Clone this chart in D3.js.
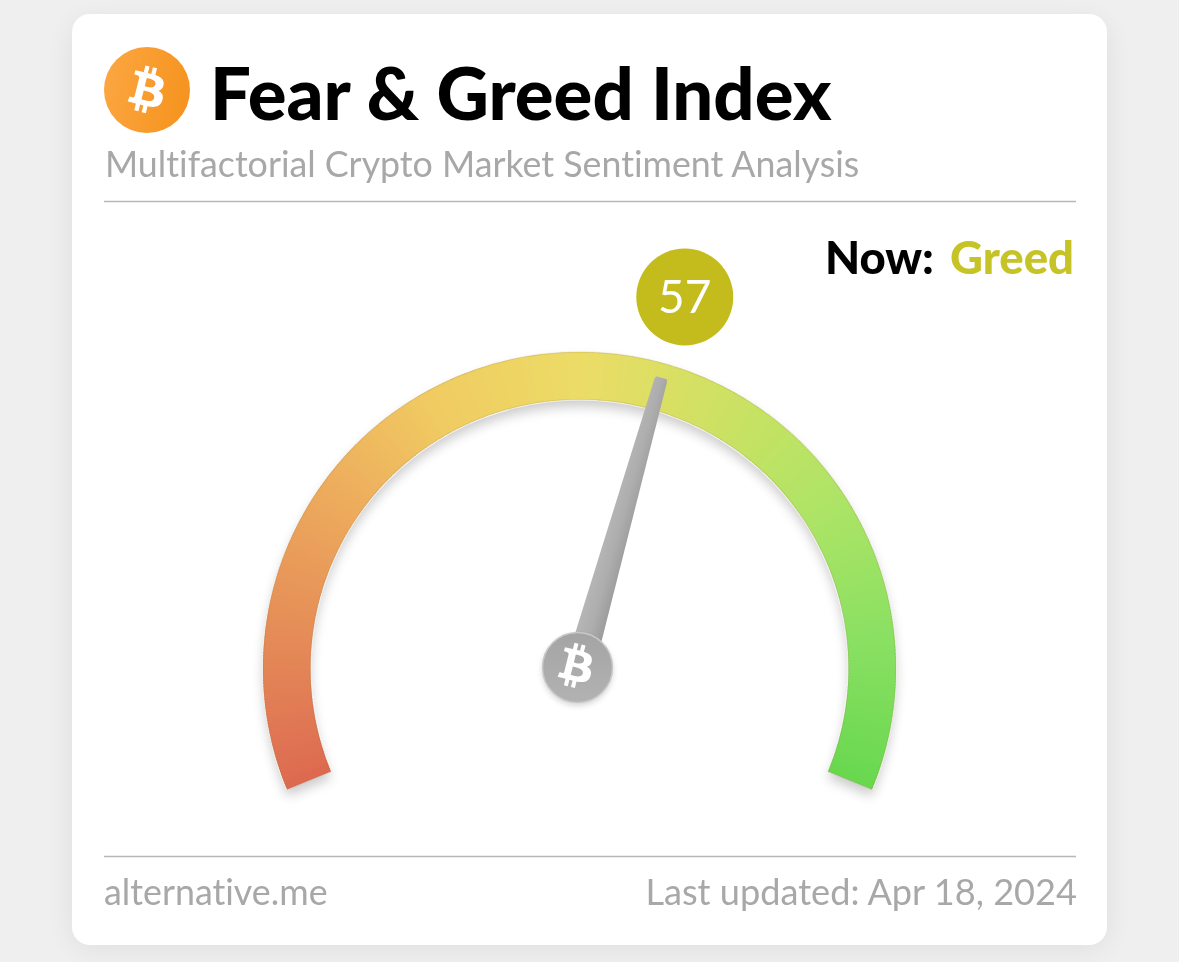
<!DOCTYPE html>
<html><head><meta charset="utf-8">
<script src="https://cdn.jsdelivr.net/npm/d3@7"></script>
<style>html,body{margin:0;padding:0;background:#efefef;overflow:hidden}svg{display:block}text{font-family:Lato,sans-serif;font-variant-ligatures:none;font-feature-settings:"liga" 0,"kern" 1}</style>
</head><body><svg id="c" width="1179" height="962"></svg>
<script>
const titleText = "Fear & Greed Index";
const subtitleText = "Multifactorial Crypto Market Sentiment Analysis";
const nowLabel = "Now:";
const classification = "Greed";
const sourceText = "alternative.me";
const updatedText = "Last updated: Apr 18, 2024";
const indexValue = 57;
const gaugeDomain = [0, 100];
const gaugeStops = [0, 12, 25, 37, 50, 62, 75, 87, 100];
const gaugeColors = ["#dd6a50","#e48a58","#edaa5c","#f0cb62","#ecdc66","#cfe163","#aee466","#8be063","#68d84f"];

const BTC = "M46.103 27.444c.637-4.258-2.605-6.547-7.038-8.074l1.438-5.768-3.511-.875-1.4 5.616c-.923-.23-1.871-.447-2.813-.662l1.41-5.653-3.509-.875-1.439 5.766c-.764-.174-1.514-.346-2.242-.527l.004-.018-4.842-1.209-.934 3.75s2.605.597 2.55.634c1.422.355 1.679 1.296 1.636 2.042l-1.638 6.571c.098.025.225.061.365.117l-.371-.092-2.296 9.205c-.174.432-.615 1.08-1.609.834.035.051-2.552-.637-2.552-.637l-1.743 4.019 4.569 1.139c.85.213 1.683.436 2.503.646l-1.453 5.834 3.507.875 1.439-5.772c.958.26 1.888.5 2.798.726l-1.434 5.745 3.511.875 1.453-5.823c5.987 1.133 10.489.676 12.384-4.739 1.527-4.36-.076-6.875-3.226-8.515 2.294-.529 4.022-2.038 4.483-5.155zm-8.022 11.249c-1.085 4.36-8.426 2.003-10.806 1.412l1.928-7.729c2.38.594 10.012 1.77 8.878 6.317zm1.086-11.312c-.99 3.966-7.1 1.951-9.082 1.457l1.748-7.01c1.982.494 8.365 1.416 7.334 5.553z";

const svg = d3.select("#c");
const defs = svg.append("defs");
const blur = (id, sd) => defs.append("filter").attr("id", id)
  .attr("x","-20%").attr("y","-20%").attr("width","140%").attr("height","140%")
  .append("feGaussianBlur").attr("stdDeviation", sd);
blur("cardShadow", 14); blur("arcShadow", 6); blur("hubShadow", 3); blur("soft", 0.45);

const orange = defs.append("linearGradient").attr("id","orangeG").attr("x1",0).attr("x2",1).attr("y1",0.4).attr("y2",0.6);
orange.append("stop").attr("offset",0).attr("stop-color","#fba640");
orange.append("stop").attr("offset",1).attr("stop-color","#f6931f");
const needleG = defs.append("linearGradient").attr("id","needleG").attr("x1",0).attr("x2",1).attr("y1",0).attr("y2",0);
needleG.append("stop").attr("offset",0).attr("stop-color","#b6b6b6");
needleG.append("stop").attr("offset",0.5).attr("stop-color","#aeaeae");
needleG.append("stop").attr("offset",1).attr("stop-color","#9c9c9c");
const hubG = defs.append("linearGradient").attr("id","hubG").attr("x1",0).attr("x2",0).attr("y1",0).attr("y2",1);
hubG.append("stop").attr("offset",0).attr("stop-color","#a4a4a4");
hubG.append("stop").attr("offset",1).attr("stop-color","#b2b2b2");

// card
svg.append("rect").attr("x",72).attr("y",22).attr("width",1035).attr("height",926).attr("rx",18)
  .attr("fill","#000").attr("opacity",0.07).attr("filter","url(#cardShadow)");
svg.append("rect").attr("x",72).attr("y",14).attr("width",1035).attr("height",931).attr("rx",18).attr("fill","#fff");

const root = svg.append("g").attr("filter","url(#soft)");

// header
const logo = root.append("g").attr("transform","translate(147,90)");
logo.append("circle").attr("r",43).attr("fill","url(#orangeG)");
logo.append("path").attr("d",BTC).attr("fill","#fff").attr("transform","scale(1.18) translate(-32,-32)");
root.append("text").attr("x",210).attr("y",119.5).attr("font-size",72.4).attr("font-weight",900).attr("fill","#000").text(titleText);
root.append("text").attr("x",105).attr("y",177).attr("font-size",35.75).attr("fill","#a8a8a8").text(subtitleText);
root.append("line").attr("x1",104).attr("x2",1076).attr("y1",201.5).attr("y2",201.5).attr("stroke","#b8b8b8").attr("stroke-width",1.5);
root.append("line").attr("x1",104).attr("x2",1076).attr("y1",856.5).attr("y2",856.5).attr("stroke","#b8b8b8").attr("stroke-width",1.5);
root.append("text").attr("x",1074).attr("y",273.5).attr("text-anchor","end").attr("font-size",45.5).attr("font-weight",900).attr("fill","#c5c327").text(classification);
root.append("text").attr("x",934).attr("y",273.5).attr("text-anchor","end").attr("font-size",45.5).attr("font-weight",900).attr("fill","#000").text(nowLabel);
root.append("text").attr("x",104).attr("y",904.5).attr("font-size",35.8).attr("fill","#a8a8a8").text(sourceText);
root.append("text").attr("x",1077).attr("y",904.5).attr("text-anchor","end").attr("font-size",36.15).attr("fill","#a8a8a8").text(updatedText);

// gauge
const cx = 579.5, cy = 668.5, rO = 316.5, rI = 269;
const angle = d3.scaleLinear().domain(gaugeDomain).range([-112.5, 112.5]);
const rad = d => angle(d) * Math.PI / 180;
const color = d3.scaleLinear().domain(gaugeStops).range(gaugeColors).interpolate(d3.interpolateRgb);
const arc = d3.arc().innerRadius(rI).outerRadius(rO);
const gauge = root.append("g").attr("transform",`translate(${cx},${cy})`);
const whole = {startAngle: rad(gaugeDomain[0]), endAngle: rad(gaugeDomain[1])};
gauge.append("path").attr("d",arc(whole)).attr("transform","translate(0,7)").attr("fill","#000").attr("opacity",0.2).attr("filter","url(#arcShadow)");
gauge.append("path").attr("d",d3.arc().innerRadius(rI-1).outerRadius(rO+1)(whole)).attr("fill","#fff");
const steps = d3.range(gaugeDomain[0], gaugeDomain[1], 0.25);
gauge.selectAll("path.seg").data(steps).join("path").attr("class","seg")
  .attr("d",d => arc({startAngle: rad(d), endAngle: rad(Math.min(d+0.35, 100))}))
  .attr("fill",d => color(d));
gauge.append("path").attr("d",arc(whole)).attr("fill","none").attr("stroke","#8a6a30").attr("stroke-opacity",0.16).attr("stroke-width",1.5);

// needle
const a = rad(indexValue);
const needle = root.append("g").attr("transform",`translate(${cx},${cy}) rotate(${angle(indexValue)})`);
needle.append("path").attr("d",d3.line()([[-14,-25],[-6.5,-299],[-5.5,-302],[5.5,-302],[6.5,-299],[14,-25]])+"Z").attr("fill","url(#needleG)");

// hub
const hub = root.append("g").attr("transform","translate(577.5,667.5)");
hub.append("circle").attr("r",35).attr("cy",3).attr("fill","#000").attr("opacity",0.18).attr("filter","url(#hubShadow)");
hub.append("circle").attr("r",35).attr("fill","url(#hubG)").attr("stroke","#c8c8c8").attr("stroke-width",1.5);
hub.append("path").attr("d",BTC).attr("fill","#fff").attr("transform","translate(-1.5,-1.5) scale(1.12) translate(-32,-32)");

// value bubble
const rB = 386;
const bx = cx + rB * Math.sin(a), by = cy - rB * Math.cos(a);
root.append("circle").attr("cx",bx+0.5).attr("cy",by).attr("r",48.5).attr("fill","#c4bc1e");
root.append("text").attr("x",bx+0.5).attr("y",by+16).attr("text-anchor","middle").attr("font-size",46).attr("font-weight",400).attr("fill","#fff").text(indexValue);
</script></body></html>
